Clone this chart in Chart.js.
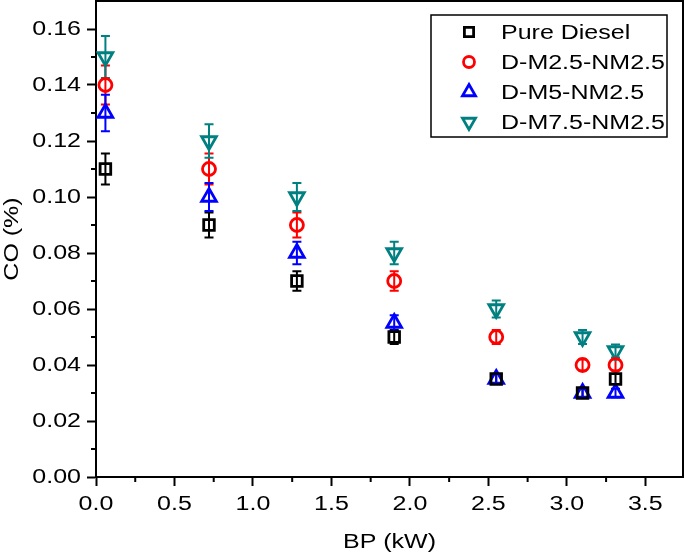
<!DOCTYPE html>
<html>
<head>
<meta charset="utf-8">
<script src="https://cdn.jsdelivr.net/npm/chart.js@4.4.0/dist/chart.umd.min.js"></script>
<style>
  html, body { margin: 0; padding: 0; background: #fff; }
  #wrap { width: 685px; height: 556px; }
</style>
</head>
<body>
<div id="wrap"><canvas id="myChart"></canvas></div>
<script>
// brake power (kW)
const bp = [0.06, 0.72, 1.28, 1.90, 2.55, 3.10, 3.31];

const seriesNames = ['Pure Diesel', 'D-M2.5-NM2.5', 'D-M5-NM2.5', 'D-M7.5-NM2.5'];

// CO (%)
const pureDiesel = [0.110, 0.090, 0.070, 0.050, 0.035, 0.030, 0.035];
const dm25 = [0.140, 0.110, 0.090, 0.070, 0.050, 0.040, 0.040];
const dm5 = [0.130, 0.100, 0.080, 0.055, 0.035, 0.030, 0.030];
const dm75 = [0.150, 0.120, 0.100, 0.080, 0.060, 0.050, 0.045];

// error bars
const errPure = [0.0055, 0.0045, 0.0035, 0.0025, 0.0018, 0.0015, 0.0018];
const errM25 = [0.0070, 0.0055, 0.0045, 0.0035, 0.0025, 0.0020, 0.0020];
const errM5 = [0.0065, 0.0050, 0.0040, 0.0028, 0.0018, 0.0015, 0.0015];
const errM75 = [0.0075, 0.0060, 0.0050, 0.0040, 0.0030, 0.0025, 0.0023];

const xTicks = [0, 0.5, 1.0, 1.5, 2.0, 2.5, 3.0, 3.5];
const xMinor = [0.25, 0.75, 1.25, 1.75, 2.25, 2.75, 3.25];
const yTicks = [0, 0.02, 0.04, 0.06, 0.08, 0.10, 0.12, 0.14, 0.16];
const yMinor = [0.01, 0.03, 0.05, 0.07, 0.09, 0.11, 0.13, 0.15];

const values = [pureDiesel, dm25, dm5, dm75];
const errors = [errPure, errM25, errM5, errM75];
const colors = ['#000000', '#ff0000', '#0000ff', '#008080'];
const shapes = ['rect', 'circle', 'triangle', 'triangle'];
const rotations = [0, 0, 0, 180];
const radii = [7.5, 6.5, 8.5, 8.5];

const FONT = { family: 'Liberation Sans, Arial, sans-serif', size: 20 };
const SX = 1.25; // the original lettering is wide, stretch text horizontally

const canvas = document.getElementById('myChart');
const ctx = canvas.getContext('2d');
const origFill = ctx.fillText.bind(ctx);
const origMeasure = ctx.measureText.bind(ctx);
ctx.fillText = function (t, x, y) {
    ctx.save();
    ctx.translate(x, y);
    ctx.scale(SX, 1);
    origFill(t, 0, 0);
    ctx.restore();
};
ctx.measureText = function (t) {
    const m = origMeasure(t);
    return {
        width: m.width * SX,
        actualBoundingBoxAscent: m.actualBoundingBoxAscent,
        actualBoundingBoxDescent: m.actualBoundingBoxDescent,
        actualBoundingBoxLeft: m.actualBoundingBoxLeft * SX,
        actualBoundingBoxRight: m.actualBoundingBoxRight * SX
    };
};

const datasets = values.map((vals, i) => ({
    label: seriesNames[i],
    data: vals.map((v, j) => ({ x: bp[j], y: v })),
    pointStyle: shapes[i],
    rotation: rotations[i],
    pointRadius: radii[i],
    pointHoverRadius: radii[i],
    borderColor: colors[i],
    backgroundColor: 'transparent',
    pointBorderWidth: 2.8,
    showLine: false
}));

const errorBars = {
    id: 'errorBars',
    beforeDatasetsDraw(chart) {
        const c = chart.ctx;
        const xs = chart.scales.x, ys = chart.scales.y;
        c.save();
        c.lineWidth = 2;
        values.forEach((vals, i) => {
            c.strokeStyle = colors[i];
            vals.forEach((v, j) => {
                const x = xs.getPixelForValue(bp[j]);
                const top = ys.getPixelForValue(v + errors[i][j]);
                const bot = ys.getPixelForValue(v - errors[i][j]);
                c.beginPath();
                c.moveTo(x, top); c.lineTo(x, bot);
                c.moveTo(x - 4.5, top); c.lineTo(x + 4.5, top);
                c.moveTo(x - 4.5, bot); c.lineTo(x + 4.5, bot);
                c.stroke();
            });
        });
        c.restore();
    }
};

const frame = {
    id: 'frame',
    afterDraw(chart) {
        const c = chart.ctx;
        const a = chart.chartArea;
        const xs = chart.scales.x, ys = chart.scales.y;
        c.save();
        c.strokeStyle = '#000';
        c.lineWidth = 2;
        c.beginPath();
        c.moveTo(a.left, a.top); c.lineTo(a.right, a.top); c.lineTo(a.right, a.bottom);
        xMinor.forEach(v => {
            const x = xs.getPixelForValue(v);
            c.moveTo(x, a.bottom); c.lineTo(x, a.bottom + 5);
        });
        yMinor.forEach(v => {
            const y = ys.getPixelForValue(v);
            c.moveTo(a.left, y); c.lineTo(a.left - 5, y);
        });
        c.stroke();

        // legend box
        const bx = 431, by = 15, bw = 236, bh = 122;
        c.lineWidth = 1.5;
        c.strokeRect(bx, by, bw, bh);
        c.font = FONT.size + 'px ' + FONT.family;
        c.textAlign = 'left';
        c.textBaseline = 'middle';
        chart.data.datasets.forEach((ds, i) => {
            const y = by + 17 + i * 30;
            c.strokeStyle = colors[i];
            c.fillStyle = 'transparent';
            c.lineWidth = 2.8;
            Chart.helpers.drawPoint(c, {
                pointStyle: shapes[i], rotation: rotations[i], radius: radii[i] - 1, borderWidth: 2.8
            }, bx + 38, y);
            c.fillStyle = '#000';
            c.fillText(ds.label, bx + 70, y + 1);
        });
        c.restore();
    }
};

new Chart(ctx, {
    type: 'scatter',
    data: { datasets },
    options: {
        responsive: true,
        maintainAspectRatio: false,
        animation: false,
        layout: { autoPadding: false, padding: { left: 0, right: 2, top: 1, bottom: 0 } },
        plugins: { legend: { display: false }, tooltip: { enabled: false } },
        scales: {
            x: {
                type: 'linear', min: 0, max: 3.74,
                afterBuildTicks: s => { s.ticks = xTicks.map(v => ({ value: v })); },
                afterFit: s => { s.height = 79; s.paddingLeft = 0; s.paddingRight = 0; },
                grid: { drawOnChartArea: false, tickLength: 9, tickWidth: 2, tickColor: '#000' },
                border: { color: '#000', width: 2 },
                ticks: { color: '#000', font: FONT, padding: 6, maxRotation: 0, callback: v => v.toFixed(1) },
                title: { display: true, text: 'BP (kW)', color: '#000', font: FONT, padding: { top: 0, bottom: 2 } }
            },
            y: {
                type: 'linear', min: 0, max: 0.17,
                afterBuildTicks: s => { s.ticks = yTicks.map(v => ({ value: v })); },
                afterFit: s => { s.width = 96; s.paddingTop = 0; s.paddingBottom = 0; },
                grid: { drawOnChartArea: false, tickLength: 9, tickWidth: 2, tickColor: '#000' },
                border: { color: '#000', width: 2 },
                ticks: { color: '#000', font: FONT, padding: 6, callback: v => v.toFixed(2) },
                title: { display: true, text: 'CO (%)', color: '#000', font: FONT, padding: { top: 0, bottom: 0 } }
            }
        }
    },
    plugins: [errorBars, frame]
});
</script>
</body>
</html>
